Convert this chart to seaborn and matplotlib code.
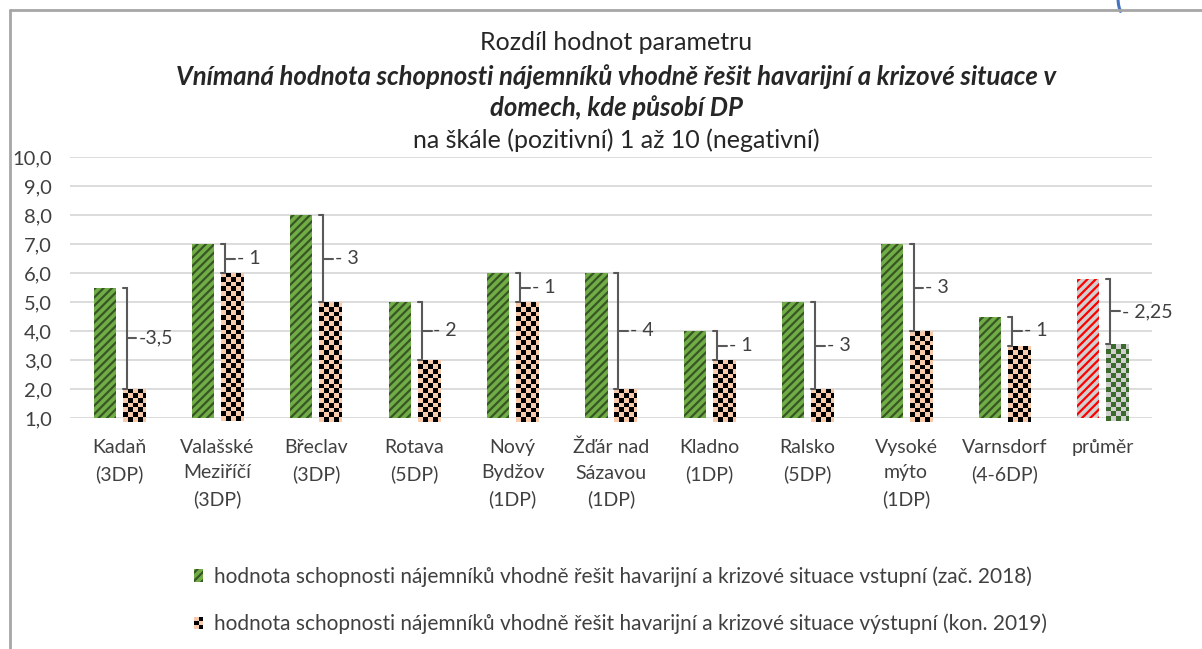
import numpy as np
import pandas as pd
import seaborn as sns
import matplotlib.pyplot as plt
import matplotlib.patches as mpatches
from matplotlib.colors import ListedColormap
from matplotlib.ticker import FuncFormatter

# --- data ---
mista = ['Kadaň\n(3DP)', 'Valašské\nMeziříčí\n(3DP)', 'Břeclav\n(3DP)', 'Rotava\n(5DP)',
         'Nový\nBydžov\n(1DP)', 'Žďár nad\nSázavou\n(1DP)', 'Kladno\n(1DP)', 'Ralsko\n(5DP)',
         'Vysoké\nmýto\n(1DP)', 'Varnsdorf\n(4-6DP)', 'průměr']
vstupni = [5.5, 7.0, 8.0, 5.0, 6.0, 6.0, 4.0, 5.0, 7.0, 4.5, 5.8]
vystupni = [2.0, 6.0, 5.0, 3.0, 5.0, 2.0, 3.0, 2.0, 4.0, 3.5, 3.55]
rozdil_popisky = ['-3,5', '- 1', '- 3', '- 2', '- 1', '- 4', '- 1', '- 3', '- 3', '- 1', '- 2,25']
serie = ['hodnota schopnosti nájemníků vhodně řešit havarijní a krizové situace vstupní (zač. 2018)',
         'hodnota schopnosti nájemníků vhodně řešit havarijní a krizové situace výstupní (kon. 2019)']

df = pd.DataFrame({
    'misto': mista * 2,
    'serie': [serie[0]] * len(mista) + [serie[1]] * len(mista),
    'hodnota': vstupni + vystupni,
})

# barvy
ZELENA, ZELENA_TMAVA = '#70AD47', '#375623'
BROSKEV = '#F8CBAD'
SEDA = '#D0D0D0'
CERVENA = '#FF0000'
TEXT = '#404040'

sns.set_theme(style='white')
plt.rcParams['font.family'] = ['Lato', 'DejaVu Sans']
plt.rcParams['hatch.linewidth'] = 1.6

fig = plt.figure(figsize=(12.02, 6.49), dpi=100)
ax = fig.add_axes([70 / 1202, 1 - 418 / 649, (1152 - 70) / 1202, (418 - 157) / 649])

sns.barplot(data=df, x='misto', y='hodnota', hue='serie', order=mista, hue_order=serie,
            width=0.59, gap=0.24, ax=ax, legend=False, zorder=3)


def checker(ax, bar, c1, c2, cx=0.048, cy=0.165):
    # sachovnice orizla na tvar sloupce
    x0, w = bar.get_x(), bar.get_width()
    top = bar.get_height()
    nx = int(np.ceil(w / cx))
    ny = int(np.ceil((top - 1) / cy))
    arr = (np.add.outer(np.arange(ny), np.arange(nx)) % 2)
    im = ax.imshow(arr, cmap=ListedColormap([c1, c2]), extent=(x0, x0 + nx * cx, top - ny * cy, top),
                   origin='upper', aspect='auto', interpolation='nearest', zorder=4)
    im.set_clip_path(bar)


bars_in, bars_out = ax.containers[0], ax.containers[1]
for i, b in enumerate(bars_in):
    if i == len(mista) - 1:
        b.set_facecolor(SEDA); b.set_edgecolor(CERVENA)
    else:
        b.set_facecolor(ZELENA); b.set_edgecolor(ZELENA_TMAVA)
    b.set_hatch('////'); b.set_linewidth(0)
for i, b in enumerate(bars_out):
    b.set_linewidth(0)
    if i == len(mista) - 1:
        checker(ax, b, SEDA, '#3B6B2A')
    else:
        checker(ax, b, BROSKEV, 'black')

# zavorky s rozdilem
for i, (bi, bo) in enumerate(zip(bars_in, bars_out)):
    hi, lo = vstupni[i], vystupni[i]
    xb = bo.get_x() + 0.04
    ax.plot([xb - 0.04, xb, xb, xb - 0.04], [hi, hi, lo, lo], color='#595959', lw=1.5,
            zorder=6, solid_joinstyle='miter')
    mid = (hi + lo) / 2
    ax.plot([xb, xb + 0.1], [mid, mid], color='#595959', lw=1.5, zorder=6)
    ax.text(xb + 0.12, mid, rozdil_popisky[i], ha='left', va='center', fontsize=14,
            color=TEXT, zorder=7)

ax.set_xlim(-0.5, len(mista) - 0.5)
ax.set_ylim(1, 10)
ax.set_yticks(np.arange(1, 11))
ax.yaxis.set_major_formatter(FuncFormatter(lambda v, p: f'{v:.1f}'.replace('.', ',')))
ax.grid(axis='y', color='#D9D9D9', lw=1.3, zorder=0)
ax.grid(axis='x', visible=False)
ax.set_axisbelow(True)
for s in ax.spines.values():
    s.set_visible(False)
ax.set_xlabel(''); ax.set_ylabel('')
ax.tick_params(axis='y', length=0, pad=13, labelsize=14.5, labelcolor=TEXT)
ax.tick_params(axis='x', length=0, pad=15, labelsize=14, labelcolor=TEXT)
for t in ax.get_xticklabels():
    t.set_linespacing(1.6)
    t.set_va('top')

# titulek
fig.text(0.5125, 1 - 42 / 649, 'Rozdíl hodnot parametru', ha='center', va='center', fontsize=18)
fig.text(0.5125, 1 - 77 / 649, 'Vnímaná hodnota schopnosti nájemníků vhodně řešit havarijní a krizové situace v',
         ha='center', va='center', fontsize=18.5, fontweight='bold', fontstyle='italic')
fig.text(0.5125, 1 - 108 / 649, 'domech, kde působí DP', ha='center', va='center', fontsize=18.5,
         fontweight='bold', fontstyle='italic')
fig.text(0.5125, 1 - 140 / 649, 'na škále (pozitivní) 1 až 10 (negativní)', ha='center', va='center', fontsize=18)


# legenda se sachovnici
class CheckerHandler:
    def __init__(self, c1, c2, n=2, m=3):
        self.c1, self.c2, self.n, self.m = c1, c2, n, m

    def legend_artist(self, legend, orig_handle, fontsize, handlebox):
        x0, y0 = -handlebox.xdescent, -handlebox.ydescent
        w, h = handlebox.width / self.n, handlebox.height / self.m
        for i in range(self.n):
            for j in range(self.m):
                c = self.c2 if (i + j) % 2 else self.c1
                r = mpatches.Rectangle((x0 + i * w, y0 + j * h), w, h, facecolor=c, lw=0,
                                       transform=handlebox.get_transform())
                handlebox.add_artist(r)
        return r


h_in = mpatches.Patch(facecolor=ZELENA, edgecolor=ZELENA_TMAVA, hatch='////', lw=0)
h_out = mpatches.Patch(facecolor=BROSKEV)
fig.legend([h_in, h_out], serie, handler_map={h_out: CheckerHandler(BROSKEV, 'black')},
           loc='upper left', bbox_to_anchor=(194 / 1202, 1 - 566 / 649), frameon=False,
           fontsize=15, labelcolor=TEXT, handlelength=0.45, handleheight=0.55, handletextpad=0.5,
           labelspacing=1.3, borderpad=0, borderaxespad=0)

# ramecek grafu
fig.add_artist(plt.Line2D([10 / 1202, 1], [1 - 10 / 649, 1 - 10 / 649], color='#A6A6A6', lw=2))
fig.add_artist(plt.Line2D([10 / 1202, 10 / 1202], [0, 1 - 10 / 649], color='#A6A6A6', lw=2))
# modry okraj jineho objektu vpravo nahore
fig.add_artist(mpatches.Arc((1126 / 1202, 1 + 2 / 649), 16 / 1202, 36 / 649, theta1=180, theta2=260,
                            color='#4472C4', lw=2.2, transform=fig.transFigure))

fig.savefig('out.png', dpi=100)
